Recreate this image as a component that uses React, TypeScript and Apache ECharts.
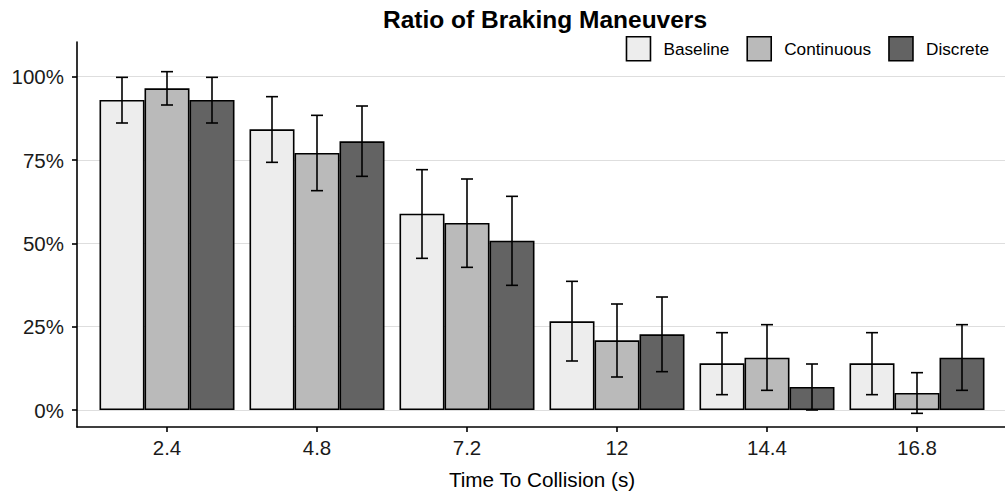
import React, { useEffect, useRef } from "react";
import * as echarts from "echarts";

const categories = ["2.4", "4.8", "7.2", "12", "14.4", "16.8"];
const seriesNames = ["Baseline", "Continuous", "Discrete"];
const baseline = [93, 84.2, 58.9, 26.6, 14, 14];
const continuous = [96.5, 77.1, 56.1, 20.9, 15.7, 5.1];
const discrete = [93, 80.6, 50.8, 22.7, 6.9, 15.7];
const baselineLow = [86.1, 74.3, 45.5, 14.7, 4.6, 4.6];
const baselineHigh = [99.8, 94, 72.1, 38.6, 23.2, 23.2];
const continuousLow = [91.5, 65.8, 42.8, 9.9, 5.9, -1];
const continuousHigh = [101.5, 88.4, 69.3, 31.8, 25.6, 11.2];
const discreteLow = [86.1, 70.1, 37.4, 11.5, 0, 5.9];
const discreteHigh = [99.8, 91.2, 64.1, 33.9, 13.8, 25.6];
const yTicks = [0, 25, 50, 75, 100];

const colors = ["#EDEDED", "#BABABA", "#636363"];
const FONT = "Liberation Sans";
const BAR_W = 45;

export default function App() {
  const ref = useRef<HTMLDivElement>(null);
  useEffect(() => {
    document.body.style.margin = "0";
    const chart = echarts.init(ref.current!, null, { renderer: "svg" });
    const xs = categories.map((_, i) => i + 1);
    const values = [baseline, continuous, discrete];
    const lows = [baselineLow, continuousLow, discreteLow];
    const highs = [baselineHigh, continuousHigh, discreteHigh];

    const barSeries = seriesNames.map((name, s) => ({
      name,
      type: "bar",
      barWidth: BAR_W,
      barGap: "0%",
      z: 2,
      itemStyle: { color: colors[s], borderColor: "#000", borderWidth: 1.6 },
      data: xs.map((x, i) => [x, values[s][i]]),
    }));

    const errData: number[][] = [];
    seriesNames.forEach((_, s) => {
      xs.forEach((x, i) => errData.push([x, lows[s][i], highs[s][i], s]));
    });

    const errSeries = {
      type: "custom",
      z: 5,
      silent: true,
      data: errData,
      encode: { x: 0, y: [1, 2] },
      renderItem: (params: any, api: any) => {
        const x = api.value(0);
        const s = api.value(3);
        const lo = api.coord([x, api.value(1)]);
        const hi = api.coord([x, api.value(2)]);
        const cx = lo[0] + (s - 1) * BAR_W;
        const hw = 6;
        const style = { stroke: "#000", lineWidth: 1.6 };
        return {
          type: "group",
          children: [
            { type: "line", shape: { x1: cx, y1: lo[1], x2: cx, y2: hi[1] }, style },
            { type: "line", shape: { x1: cx - hw, y1: lo[1], x2: cx + hw, y2: lo[1] }, style },
            { type: "line", shape: { x1: cx - hw, y1: hi[1], x2: cx + hw, y2: hi[1] }, style },
          ],
        };
      },
    };

    chart.setOption({
      animation: false,
      backgroundColor: "#fff",
      textStyle: { fontFamily: FONT },
      title: {
        text: "Ratio of Braking Maneuvers",
        left: 383,
        top: 7,
        padding: 0,
        textStyle: { fontFamily: FONT, fontWeight: "bold", fontSize: 24.5, color: "#000" },
      },
      legend: {
        data: seriesNames,
        right: 16,
        top: 36,
        padding: 0,
        itemWidth: 24,
        itemHeight: 24,
        itemGap: 17,
        icon: "rect",
        itemStyle: { borderColor: "#000", borderWidth: 1.6 },
        textStyle: { fontFamily: FONT, fontSize: 17.2, color: "#000", padding: [0, 0, 0, 8] },
      },
      grid: { left: 77, top: 42, width: 930, height: 385, outerBoundsMode: "none" },
      xAxis: {
        type: "value",
        min: 0.4,
        max: 6.6,
        splitLine: { show: false },
        axisLine: { show: true, onZero: false, lineStyle: { color: "#000", width: 1.6 } },
        axisTick: { show: true, customValues: xs, length: 5, lineStyle: { color: "#000", width: 1.6 } },
        axisLabel: {
          customValues: xs,
          formatter: (v: number) => categories[Math.round(v) - 1],
          fontFamily: FONT,
          fontSize: 20.5,
          color: "#1a1a1a",
          margin: 10,
        },
        name: "Time To Collision (s)",
        nameLocation: "middle",
        nameGap: 42,
        nameTextStyle: { fontFamily: FONT, fontSize: 20.7, color: "#000" },
      },
      yAxis: {
        type: "value",
        min: -5.1,
        max: 110.4,
        axisLine: { show: true, onZero: false, lineStyle: { color: "#000", width: 1.6 } },
        axisTick: { show: true, customValues: yTicks, length: 5, lineStyle: { color: "#000", width: 1.6 } },
        axisLabel: {
          customValues: yTicks,
          formatter: (v: number) => `${v}%`,
          fontFamily: FONT,
          fontSize: 20.5,
          color: "#1a1a1a",
          margin: 13,
        },
        splitLine: { show: true, lineStyle: { color: "#DEDEDE", width: 1.2 } },
      },
      series: [...barSeries, errSeries],
    });
    return () => chart.dispose();
  }, []);
  return <div ref={ref} style={{ width: 1005, height: 492 }} />;
}
